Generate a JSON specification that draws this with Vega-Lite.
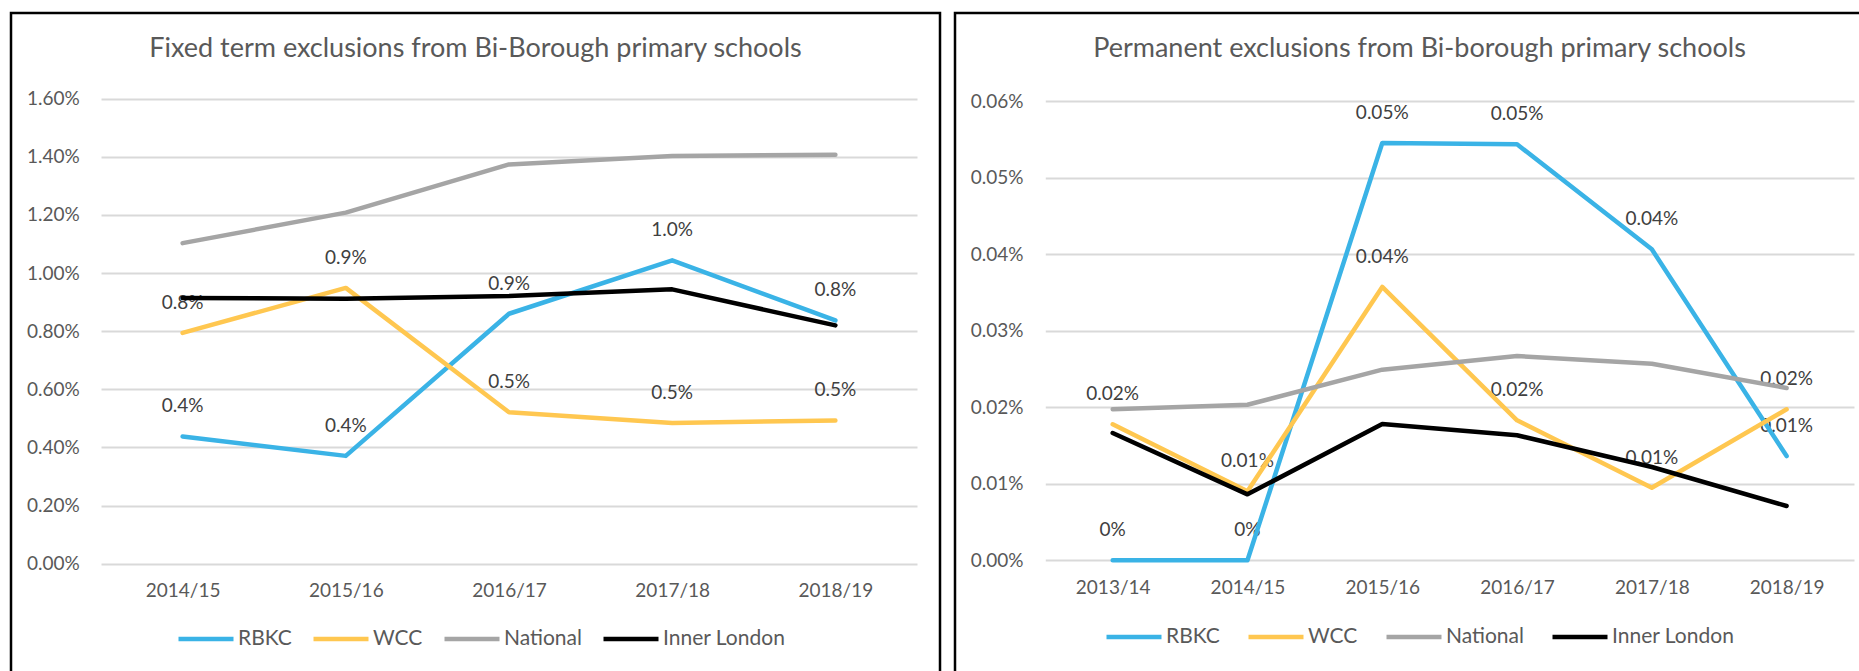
{
  "$schema": "https://vega.github.io/schema/vega-lite/v6.json",
  "background": "white",
  "padding": {"left": 9, "top": 11, "right": 0, "bottom": 0},
  "spacing": 11,
  "config": {
    "font": "Lato",
    "view": {"stroke": "#000000", "strokeWidth": 2.5, "fill": "white"},
    "title": {"font": "Lato", "fontSize": 27, "fontWeight": "normal", "color": "#595959", "anchor": "middle", "frame": "group", "baseline": "alphabetic", "offset": -49.5},
    "axis": {"labelFont": "Lato", "labelFontSize": 19, "labelColor": "#595959", "title": null, "domain": false, "ticks": false},
    "legend": {"orient": "none", "direction": "horizontal", "symbolType": "stroke", "symbolSize": 3025, "symbolStrokeWidth": 4.5, "labelFont": "Lato", "labelFontSize": 21, "labelColor": "#595959", "labelOffset": 2, "padding": 0}
  },
  "datasets": {
    "fixed": [
      {"year": "2014/15", "series": "RBKC", "v": 0.00438},
      {"year": "2015/16", "series": "RBKC", "v": 0.00371},
      {"year": "2016/17", "series": "RBKC", "v": 0.00860},
      {"year": "2017/18", "series": "RBKC", "v": 0.01044},
      {"year": "2018/19", "series": "RBKC", "v": 0.00837},
      {"year": "2014/15", "series": "WCC", "v": 0.00794},
      {"year": "2015/16", "series": "WCC", "v": 0.00949},
      {"year": "2016/17", "series": "WCC", "v": 0.00521},
      {"year": "2017/18", "series": "WCC", "v": 0.00484},
      {"year": "2018/19", "series": "WCC", "v": 0.00493},
      {"year": "2014/15", "series": "National", "v": 0.01103},
      {"year": "2015/16", "series": "National", "v": 0.01208},
      {"year": "2016/17", "series": "National", "v": 0.01374},
      {"year": "2017/18", "series": "National", "v": 0.01403},
      {"year": "2018/19", "series": "National", "v": 0.01407},
      {"year": "2014/15", "series": "Inner London", "v": 0.00914},
      {"year": "2015/16", "series": "Inner London", "v": 0.00912},
      {"year": "2016/17", "series": "Inner London", "v": 0.00921},
      {"year": "2017/18", "series": "Inner London", "v": 0.00944},
      {"year": "2018/19", "series": "Inner London", "v": 0.00820}
    ],
    "perm": [
      {"year": "2013/14", "series": "RBKC", "v": 0},
      {"year": "2014/15", "series": "RBKC", "v": 0},
      {"year": "2015/16", "series": "RBKC", "v": 0.0005455},
      {"year": "2016/17", "series": "RBKC", "v": 0.0005438},
      {"year": "2017/18", "series": "RBKC", "v": 0.0004065},
      {"year": "2018/19", "series": "RBKC", "v": 0.0001363},
      {"year": "2013/14", "series": "WCC", "v": 0.0001778},
      {"year": "2014/15", "series": "WCC", "v": 0.0000902},
      {"year": "2015/16", "series": "WCC", "v": 0.0003573},
      {"year": "2016/17", "series": "WCC", "v": 0.000183},
      {"year": "2017/18", "series": "WCC", "v": 0.0000949},
      {"year": "2018/19", "series": "WCC", "v": 0.0001974},
      {"year": "2013/14", "series": "National", "v": 0.0001974},
      {"year": "2014/15", "series": "National", "v": 0.0002034},
      {"year": "2015/16", "series": "National", "v": 0.0002492},
      {"year": "2016/17", "series": "National", "v": 0.000267},
      {"year": "2017/18", "series": "National", "v": 0.000257},
      {"year": "2018/19", "series": "National", "v": 0.0002252},
      {"year": "2013/14", "series": "Inner London", "v": 0.0001664},
      {"year": "2014/15", "series": "Inner London", "v": 0.0000862},
      {"year": "2015/16", "series": "Inner London", "v": 0.0001782},
      {"year": "2016/17", "series": "Inner London", "v": 0.0001634},
      {"year": "2017/18", "series": "Inner London", "v": 0.000122},
      {"year": "2018/19", "series": "Inner London", "v": 0.000071}
    ]
  },
  "hconcat": [
    {
      "width": 929,
      "height": 669,
      "title": {"text": "Fixed term exclusions from Bi-Borough primary schools"},
      "data": {"name": "fixed"},
      "layer": [
        {
          "transform": [{"filter": {"field": "series", "oneOf": ["RBKC", "WCC"]}}],
          "mark": {"type": "text", "dy": -30, "fontSize": 19, "color": "#404040", "baseline": "middle", "font": "Lato"},
          "encoding": {
            "x": {"field": "year", "type": "ordinal"},
            "y": {"field": "v", "type": "quantitative"},
            "text": {"field": "v", "type": "quantitative", "format": ".1%"}
          }
        },
        {
          "mark": {"type": "line", "strokeWidth": 4.5, "strokeCap": "round", "strokeJoin": "round"},
          "encoding": {
            "x": {"field": "year", "type": "ordinal", "scale": {"type": "point", "range": [90, 906], "padding": 0.5},
                  "axis": {"orient": "bottom", "offset": -118.3, "labelPadding": 26.6, "labelBaseline": "middle", "labelAlign": "center", "labelAngle": 0}},
            "y": {"field": "v", "type": "quantitative", "scale": {"domain": [0, 0.016], "range": [550.7, 85.7], "nice": false, "zero": true},
                  "axis": {"values": [0, 0.002, 0.004, 0.006, 0.008, 0.01, 0.012, 0.014, 0.016], "format": ".2%", "offset": -90, "labelPadding": 21.7, "grid": true, "gridColor": "#d9d9d9", "gridWidth": 2}},
            "color": {"field": "series", "type": "nominal",
                      "scale": {"domain": ["RBKC", "WCC", "National", "Inner London"], "range": ["#3ab3e6", "#ffc750", "#a5a5a5", "#000000"]},
                      "legend": {"title": null, "legendX": 165, "legendY": 596, "columnPadding": 12}}
          }
        }
      ]
    },
    {
      "width": 929,
      "height": 669,
      "title": {"text": "Permanent exclusions from Bi-borough primary schools"},
      "data": {"name": "perm"},
      "layer": [
        {
          "transform": [{"filter": {"field": "series", "oneOf": ["RBKC", "WCC"]}}],
          "mark": {"type": "text", "dy": -30, "fontSize": 19, "color": "#404040", "baseline": "middle", "font": "Lato"},
          "encoding": {
            "x": {"field": "year", "type": "ordinal"},
            "y": {"field": "v", "type": "quantitative"},
            "text": {"condition": {"test": "datum.v === 0", "value": "0%"}, "field": "v", "type": "quantitative", "format": ".2%"}
          }
        },
        {
          "mark": {"type": "line", "strokeWidth": 4.5, "strokeCap": "round", "strokeJoin": "round"},
          "encoding": {
            "x": {"field": "year", "type": "ordinal", "scale": {"type": "point", "range": [90.3, 899], "padding": 0.5},
                  "axis": {"orient": "bottom", "offset": -121.7, "labelPadding": 27.4, "labelBaseline": "middle", "labelAlign": "center", "labelAngle": 0}},
            "y": {"field": "v", "type": "quantitative", "scale": {"domain": [0, 0.0006], "range": [547.3, 88.3], "nice": false, "zero": true},
                  "axis": {"values": [0, 0.0001, 0.0002, 0.0003, 0.0004, 0.0005, 0.0006], "format": ".2%", "offset": -90.3, "labelPadding": 22.3, "grid": true, "gridColor": "#d9d9d9", "gridWidth": 2}},
            "color": {"field": "series", "type": "nominal",
                      "scale": {"domain": ["RBKC", "WCC", "National", "Inner London"], "range": ["#3ab3e6", "#ffc750", "#a5a5a5", "#000000"]},
                      "legend": {"title": null, "legendX": 149, "legendY": 594, "columnPadding": 19}}
          }
        }
      ]
    }
  ],
  "resolve": {
    "scale": {"x": "independent", "y": "independent", "color": "independent"},
    "legend": {"color": "independent"},
    "axis": {"x": "independent", "y": "independent"}
  }
}
